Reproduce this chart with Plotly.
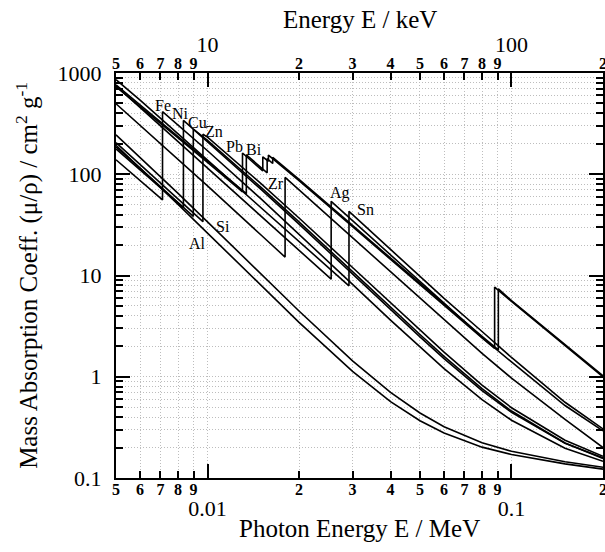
import math
import plotly.graph_objects as go

# ---------------- data (energy in keV, mass attenuation in cm^2/g) ----------------
E_Al = [5, 6, 8, 10, 15, 20, 30, 40, 50, 60, 80, 100, 150, 200]
mu_Al = [193.4, 115.3, 50.33, 26.23, 7.955, 3.441, 1.128, 0.5685, 0.3681, 0.2778, 0.2018, 0.1704, 0.1378, 0.1223]

E_Si = [5, 6, 8, 10, 15, 20, 30, 40, 50, 60, 80, 100, 150, 200]
mu_Si = [245.0, 147.0, 64.68, 33.89, 10.34, 4.464, 1.436, 0.7012, 0.4385, 0.3207, 0.2228, 0.1835, 0.1448, 0.1275]

E_Fe = [5, 6, 7.112, 7.112, 8, 10, 15, 20, 30, 40, 50, 60, 80, 100, 150, 200]
mu_Fe = [139.1, 86.36, 55.8, 415.0, 305.6, 170.6, 57.08, 25.68, 8.176, 3.629, 1.958, 1.205, 0.5952, 0.3717, 0.1964, 0.1460]

E_Ni = [5, 6, 8, 8.333, 8.333, 10, 15, 20, 30, 40, 50, 60, 80, 100, 150, 200]
mu_Ni = [178.0, 111.0, 52.3, 46.8, 340.0, 209.4, 70.81, 32.20, 10.34, 4.600, 2.474, 1.512, 0.7306, 0.4440, 0.2208, 0.1582]

E_Cu = [5, 6, 8, 8.979, 8.979, 10, 15, 20, 30, 40, 50, 60, 80, 100, 150, 200]
mu_Cu = [186.0, 115.0, 52.6, 38.3, 278.8, 215.9, 74.05, 33.79, 10.92, 4.862, 2.613, 1.593, 0.7630, 0.4584, 0.2217, 0.1559]

E_Zn = [5, 6, 8, 9.659, 9.659, 10, 15, 20, 30, 40, 50, 60, 80, 100, 150, 200]
mu_Zn = [205.0, 124.0, 56.5, 34.0, 248.0, 233.1, 80.9, 37.0, 11.99, 5.35, 2.88, 1.75, 0.828, 0.494, 0.236, 0.164]

E_Zr = [5, 6, 8, 10, 15, 17.998, 17.998, 20, 30, 40, 50, 60, 80, 100, 150, 200]
mu_Zr = [497.0, 304.0, 140.0, 76.6, 25.1, 15.2, 93.0, 70.0, 23.6, 10.9, 5.95, 3.64, 1.70, 0.97, 0.38, 0.200]

E_Ag = [5, 6, 8, 10, 15, 20, 25.514, 25.514, 30, 40, 50, 60, 80, 100, 150, 200]
mu_Ag = [746.0, 456.0, 210.0, 115.0, 38.6, 17.8, 9.2, 54.0, 34.8, 15.8, 8.6, 5.3, 2.45, 1.40, 0.52, 0.292]

E_Sn = [5, 6, 8, 10, 15, 20, 29.2, 29.2, 30, 40, 50, 60, 80, 100, 150, 200]
mu_Sn = [860.0, 540.0, 250.0, 138.0, 46.5, 21.6, 7.9, 43.0, 40.0, 18.1, 9.8, 5.94, 2.8, 1.55, 0.56, 0.305]

E_Pb = [5, 6, 8, 10, 13.035, 13.035, 15, 15.2, 15.2, 15.861, 15.861, 20, 30, 40, 50, 60, 80, 88.005, 88.005, 100, 150, 200]
mu_Pb = [730.4, 467.2, 228.7, 130.6, 67.01, 162.1, 111.6, 107.8, 148.5, 134.4, 154.8, 86.36, 30.32, 14.36, 8.041, 5.021, 2.419, 1.910, 7.683, 5.549, 2.014, 0.9985]

E_Bi = [5, 6, 8, 10, 13.419, 13.419, 15, 15.711, 15.711, 16.388, 16.388, 20, 30, 40, 50, 60, 80, 90.526, 90.526, 100, 150, 200]
mu_Bi = [763.0, 486.0, 237.0, 135.0, 64.3, 155.6, 116.5, 103.4, 142.5, 127.7, 147.0, 89.0, 31.2, 14.8, 8.3, 5.18, 2.50, 1.84, 7.4, 5.65, 2.05, 1.02]

series = [
    ("Al", E_Al, mu_Al), ("Si", E_Si, mu_Si), ("Fe", E_Fe, mu_Fe), ("Ni", E_Ni, mu_Ni),
    ("Cu", E_Cu, mu_Cu), ("Zn", E_Zn, mu_Zn), ("Zr", E_Zr, mu_Zr), ("Ag", E_Ag, mu_Ag),
    ("Sn", E_Sn, mu_Sn), ("Pb", E_Pb, mu_Pb), ("Bi", E_Bi, mu_Bi),
]

# element label positions (MeV, cm^2/g)
label_names = ["Fe", "Ni", "Cu", "Zn", "Pb", "Bi", "Zr", "Si", "Al", "Ag", "Sn"]
label_x = [0.00716, 0.00812, 0.00926, 0.01053, 0.01231, 0.01425, 0.01676, 0.01127, 0.00929, 0.02728, 0.03297]
label_y = [483, 400, 323, 263, 187, 176, 81.4, 30.3, 20.5, 64.9, 44.4]

# axis ticks
x_range_mev = (0.005, 0.2)
y_range = (0.1, 1000)
x_major_mev = [0.01, 0.1]
x_major_txt = ["0.01", "0.1"]
x_minor_mev = [0.005, 0.006, 0.007, 0.008, 0.009, 0.02, 0.03, 0.04, 0.05, 0.06, 0.07, 0.08, 0.09, 0.2]
x_minor_txt = ["5", "6", "7", "8", "9", "2", "3", "4", "5", "6", "7", "8", "9", "2"]
top_major_kev = [10, 100]
top_major_txt = ["10", "100"]
top_minor_kev = [5, 6, 7, 8, 9, 20, 30, 40, 50, 60, 70, 80, 90, 200]
y_major = [0.1, 1, 10, 100, 1000]
y_major_txt = ["0.1", "1", "10", "100", "1000"]
y_minor = [m * 10 ** d for d in range(-1, 3) for m in range(2, 10)]

FONT = "Liberation Serif, Times New Roman, serif"
GRID = "#bdbdbd"
GDASH = "1px,2px"

fig = go.Figure()
for name, E, mu in series:
    fig.add_trace(go.Scatter(
        x=[e / 1000.0 for e in E], y=mu, mode="lines", name=name,
        line=dict(color="black", width=1.6), showlegend=False, hoverinfo="skip",
    ))
# empty helper traces so that overlay axes are created
for xa in ["x2", "x3", "x4"]:
    fig.add_trace(go.Scatter(x=[], y=[], xaxis=xa, yaxis="y", showlegend=False))

for name, lx, ly in zip(label_names, label_x, label_y):
    fig.add_annotation(x=math.log10(lx), y=math.log10(ly), xref="x", yref="y", text=name,
                       showarrow=False, font=dict(family=FONT, size=16, color="black"))

xr = [math.log10(x_range_mev[0]), math.log10(x_range_mev[1])]
xr_kev = [math.log10(x_range_mev[0] * 1000), math.log10(x_range_mev[1] * 1000)]
eps = 1e-7
xr_lab = [xr[0] - eps, xr[1] + eps]
xr_kev_lab = [xr_kev[0] - eps, xr_kev[1] + eps]

minor_font = dict(family=FONT, size=16, weight="bold")
major_font = dict(family=FONT, size=22)

fig.update_layout(
    width=605, height=552,
    margin=dict(l=116, r=2, t=73, b=74, autoexpand=False),
    paper_bgcolor="white", plot_bgcolor="white",
    showlegend=False,
    font=dict(family=FONT, color="black"),
    xaxis=dict(
        type="log", range=xr, tickmode="array", tickvals=x_major_mev, ticktext=x_major_txt,
        ticks="inside", ticklen=14, tickwidth=1.5, tickcolor="black",
        tickfont=major_font, ticklabelstandoff=10, automargin=False,
        showline=True, linecolor="black", linewidth=2, mirror="ticks",
        showgrid=True, gridcolor=GRID, griddash=GDASH, gridwidth=1, zeroline=False,
        minor=dict(tickmode="array", tickvals=x_minor_mev, ticks="inside", ticklen=7,
                   tickwidth=1.5, tickcolor="black", showgrid=True, gridcolor=GRID,
                   griddash=GDASH, gridwidth=1),
    ),
    xaxis3=dict(
        type="log", range=xr_lab, overlaying="x", side="bottom", anchor="y",
        tickmode="array", tickvals=x_minor_mev, ticktext=x_minor_txt, ticks="",
        tickfont=minor_font, automargin=False, ticklabeloverflow="allow",
        showgrid=False, showline=False, zeroline=False,
    ),
    xaxis2=dict(
        type="log", range=xr_kev, overlaying="x", side="top", anchor="y",
        tickmode="array", tickvals=top_major_kev, ticktext=top_major_txt, ticks="",
        tickfont=major_font, ticklabelstandoff=16, automargin=False,
        showgrid=False, showline=False, zeroline=False,
    ),
    xaxis4=dict(
        type="log", range=xr_kev_lab, overlaying="x", side="top", anchor="y",
        tickmode="array", tickvals=top_minor_kev, ticktext=x_minor_txt, ticks="",
        tickfont=minor_font, automargin=False, ticklabeloverflow="allow",
        showgrid=False, showline=False, zeroline=False,
    ),
    yaxis=dict(
        type="log", range=[math.log10(y_range[0]), math.log10(y_range[1])],
        tickmode="array", tickvals=y_major, ticktext=y_major_txt,
        ticks="inside", ticklen=14, tickwidth=1.5, tickcolor="black",
        tickfont=major_font, ticklabelstandoff=8, automargin=False,
        showline=True, linecolor="black", linewidth=2, mirror="ticks",
        showgrid=True, gridcolor=GRID, griddash=GDASH, gridwidth=1, zeroline=False,
        minor=dict(tickmode="array", tickvals=y_minor, ticks="inside", ticklen=7,
                   tickwidth=1.5, tickcolor="black", showgrid=True, gridcolor=GRID,
                   griddash=GDASH, gridwidth=1),
    ),
)

fig.add_annotation(x=0.5, y=-0.124, xref="paper", yref="paper", yanchor="middle",
                   text="Photon Energy E / MeV", showarrow=False,
                   font=dict(family=FONT, size=25, color="black"))
fig.add_annotation(x=0.5, y=1.131, xref="paper", yref="paper", yanchor="middle",
                   text="Energy E / keV", showarrow=False,
                   font=dict(family=FONT, size=25, color="black"))
fig.add_annotation(x=-0.182, y=0.5, xref="paper", yref="paper", xanchor="center", yanchor="middle",
                   textangle=-90,
                   text="Mass Absorption Coeff. (\u03bc/\u03c1) / cm<sup>2</sup> g<sup>-1</sup>",
                   showarrow=False, font=dict(family=FONT, size=25, color="black"))

# remove the default page margin so the figure sits at the window's top-left corner
fig.write_html("out.html", config={"displayModeBar": False},
               post_script="document.body.style.margin='0';document.body.style.overflow='hidden';")
